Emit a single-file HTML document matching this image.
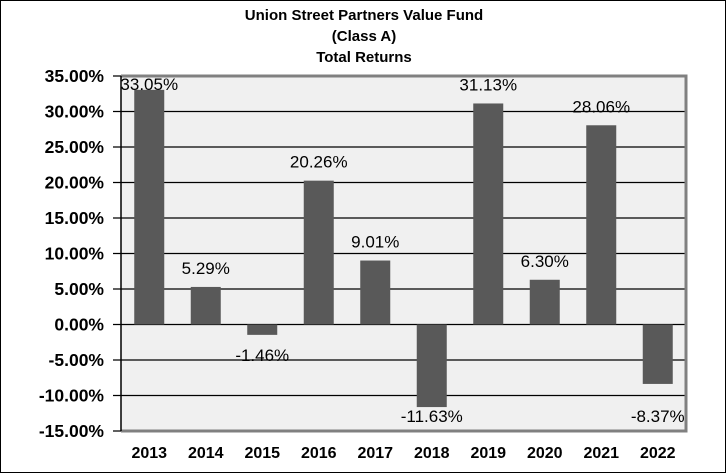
<!DOCTYPE html>
<html><head><meta charset="utf-8"><style>
body{margin:0;background:#fff;}
svg{display:block;font-family:"Liberation Sans",Arial,sans-serif;}
</style></head><body>
<svg width="728" height="474">
<rect x="0.5" y="0.5" width="725" height="472" fill="#fff" stroke="#000"/>
<g font-weight="bold" font-size="15" text-anchor="middle" fill="#000">
<text x="364" y="20">Union Street Partners Value Fund</text>
<text x="364" y="41">(Class A)</text>
<text x="364" y="62">Total Returns</text>
</g>
<g id="plot"></g>
</svg>
<script>
const categories=["2013","2014","2015","2016","2017","2018","2019","2020","2021","2022"];
const values=[33.05,5.29,-1.46,20.26,9.01,-11.63,31.13,6.30,28.06,-8.37];
const labels=["33.05%","5.29%","-1.46%","20.26%","9.01%","-11.63%","31.13%","6.30%","28.06%","-8.37%"];
const ticks=[35,30,25,20,15,10,5,0,-5,-10,-15];
const tickLabels=["35.00%","30.00%","25.00%","20.00%","15.00%","10.00%","5.00%","0.00%","-5.00%","-10.00%","-15.00%"];
const L=121,R=686,T=76,B=431,yMax=35,yMin=-15;
const ns="http://www.w3.org/2000/svg";
const g=document.getElementById('plot');
function y(v){return T+(yMax-v)/(yMax-yMin)*(B-T);}
const cw=(R-L)/categories.length;
function xc(i){return L+cw*(i+0.5);}
function mk(t,a){const e=document.createElementNS(ns,t);for(const k in a)e.setAttribute(k,a[k]);g.appendChild(e);return e;}
let e=mk('rect',{x:L,y:T,width:R-L,height:B-T,fill:'#f0f0f0'});


ticks.forEach((t,i)=>{
 const l=mk('line',{x1:L-8,x2:R,y1:y(t),y2:y(t),stroke:'#000','stroke-width':1.3});
 
 
 const tx=mk('text',{x:104,y:y(t)+6,'text-anchor':'end','font-size':17.5,'font-weight':'bold'});
 tx.textContent=tickLabels[i];
 
 
});
values.forEach((v,i)=>{
 const bw=30,top=y(Math.max(v,0)),bot=y(Math.min(v,0));
 const b=mk('rect',{x:xc(i)-bw/2,y:top,width:bw,height:bot-top,fill:'#595959'});
 
 
 let ly=v>=0?top-13:bot+26;
 ly=Math.max(ly,T+14);ly=Math.min(ly,B-9);
 if(v<-5)ly=B-9;
 const t=mk('text',{x:xc(i),y:ly,'text-anchor':'middle','font-size':17});
 t.textContent=labels[i];
 
 
 const c=mk('text',{x:xc(i),y:458,'text-anchor':'middle','font-size':16,'font-weight':'bold'});
 c.textContent=categories[i];
 
 
});
e=mk('polyline',{points:`${L},${T} ${R},${T} ${R},${B} ${L},${B}`,fill:'none',stroke:'#808080','stroke-width':3});


e=mk('line',{x1:L,x2:L,y1:T,y2:B,stroke:'#000','stroke-width':1.5});


</script>
</body></html>
